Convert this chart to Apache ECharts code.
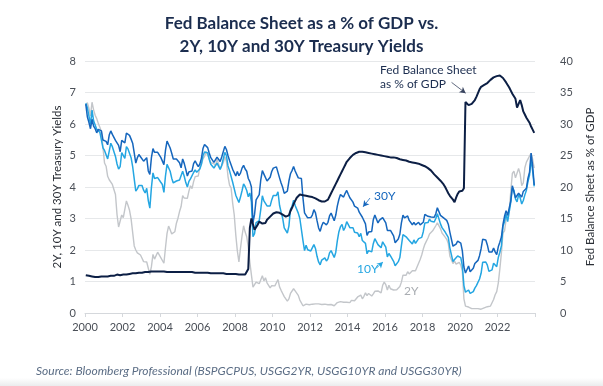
<!DOCTYPE html>
<html><head><meta charset="utf-8">
<script src="https://cdn.jsdelivr.net/npm/echarts@6/dist/echarts.min.js"></script>
<style>html,body{margin:0;padding:0;background:#fff}#c{width:603px;height:386px}</style>
</head><body><div id="c"></div>
<script>
// Monthly data Jan 2000 .. Dec 2023
const startYear = 2000, endYear = 2023;
const xTicks = [2000,2002,2004,2006,2008,2010,2012,2014,2016,2018,2020,2022];

const y2 = [
6.58,6.68,6.50,6.26,6.69,6.45,6.28,6.17,6.02,5.90,5.76,5.26,
4.76,4.66,4.34,4.23,4.26,4.08,4.04,3.76,3.12,2.73,2.78,3.11,
3.03,3.02,3.56,3.42,3.26,2.99,2.56,2.13,2.00,1.91,1.92,1.84,
1.74,1.63,1.57,1.62,1.42,1.23,1.47,1.86,1.71,1.75,1.93,1.91,
1.76,1.74,1.58,2.07,2.53,2.76,2.64,2.51,2.53,2.58,2.85,3.01,
3.22,3.38,3.73,3.65,3.64,3.64,3.87,4.04,3.95,4.17,4.33,4.39,
4.35,4.64,4.74,4.89,4.97,5.12,5.12,4.90,4.77,4.80,4.74,4.67,
4.88,4.85,4.57,4.67,4.77,4.96,4.82,4.34,4.06,3.97,3.49,3.12,
2.48,1.97,1.62,2.05,2.45,2.77,2.57,2.42,2.08,1.61,1.21,0.82,
0.81,0.98,0.93,0.93,0.92,1.18,1.02,1.12,0.96,0.95,0.80,0.87,
0.93,0.86,0.96,1.06,0.83,0.72,0.62,0.52,0.47,0.38,0.45,0.62,
0.61,0.77,0.70,0.73,0.56,0.41,0.41,0.23,0.21,0.28,0.25,0.26,
0.24,0.28,0.34,0.29,0.29,0.29,0.25,0.27,0.26,0.28,0.27,0.26,
0.27,0.27,0.26,0.23,0.25,0.33,0.34,0.36,0.40,0.34,0.30,0.34,
0.39,0.33,0.40,0.42,0.39,0.45,0.51,0.47,0.57,0.45,0.53,0.64,
0.55,0.62,0.64,0.54,0.61,0.69,0.67,0.70,0.71,0.64,0.88,0.98,
0.90,0.73,0.88,0.77,0.82,0.73,0.67,0.74,0.77,0.84,0.98,1.20,
1.21,1.20,1.31,1.24,1.30,1.34,1.37,1.34,1.38,1.58,1.70,1.84,
2.03,2.18,2.28,2.38,2.51,2.53,2.61,2.65,2.77,2.86,2.86,2.68,
2.54,2.50,2.41,2.34,2.21,1.81,1.84,1.57,1.65,1.55,1.61,1.61,
1.52,1.33,0.45,0.22,0.17,0.19,0.14,0.14,0.13,0.14,0.17,0.14,
0.13,0.12,0.15,0.16,0.16,0.20,0.22,0.22,0.24,0.43,0.58,0.68,
0.95,1.40,1.91,2.54,2.61,2.96,3.02,3.24,3.86,4.43,4.50,4.29,
4.24,4.59,4.41,4.04,4.13,4.61,4.79,4.83,4.98,5.07,4.88,4.60
];

const y10 = [
6.66,6.52,6.26,5.99,6.44,6.10,6.05,5.83,5.80,5.74,5.72,5.24,
5.16,5.10,4.89,5.14,5.39,5.28,5.24,4.97,4.73,4.57,4.65,5.09,
5.04,4.91,5.28,5.21,5.16,4.93,4.65,4.26,3.87,3.94,4.05,4.03,
4.05,3.90,3.81,3.96,3.57,3.33,3.98,4.45,4.27,4.29,4.30,4.27,
4.15,4.08,3.83,4.35,4.72,4.73,4.50,4.28,4.13,4.10,4.19,4.23,
4.22,4.17,4.50,4.34,4.14,4.00,4.18,4.26,4.20,4.46,4.54,4.47,
4.42,4.57,4.72,4.99,5.11,5.11,5.09,4.88,4.72,4.73,4.60,4.56,
4.76,4.72,4.56,4.69,4.75,5.10,5.00,4.67,4.52,4.53,4.15,4.10,
3.74,3.74,3.51,3.68,3.88,4.10,4.01,3.89,3.69,3.81,3.53,2.42,
2.52,2.87,2.82,2.93,3.29,3.72,3.56,3.59,3.40,3.39,3.40,3.59,
3.73,3.69,3.73,3.85,3.42,3.20,3.01,2.70,2.65,2.54,2.76,3.29,
3.39,3.58,3.41,3.46,3.17,3.00,3.00,2.30,1.98,2.15,2.01,1.98,
1.97,1.97,2.17,2.05,1.80,1.62,1.53,1.68,1.72,1.75,1.65,1.72,
1.91,1.98,1.96,1.76,1.93,2.30,2.58,2.74,2.81,2.62,2.72,2.90,
2.86,2.71,2.72,2.71,2.56,2.60,2.54,2.42,2.53,2.30,2.33,2.21,
1.88,1.98,2.04,1.94,2.20,2.36,2.32,2.17,2.17,2.07,2.26,2.24,
2.09,1.78,1.89,1.81,1.81,1.64,1.50,1.56,1.63,1.76,2.14,2.49,
2.43,2.42,2.48,2.30,2.30,2.19,2.32,2.21,2.20,2.36,2.35,2.40,
2.58,2.86,2.84,2.87,2.98,2.91,2.89,2.89,3.00,3.15,3.12,2.83,
2.71,2.68,2.57,2.53,2.40,2.07,2.06,1.63,1.70,1.71,1.81,1.86,
1.76,1.50,0.87,0.66,0.67,0.73,0.62,0.65,0.68,0.79,0.87,0.93,
1.08,1.26,1.61,1.64,1.62,1.52,1.32,1.28,1.37,1.58,1.56,1.47,
1.76,1.93,2.13,2.75,2.90,3.14,2.90,2.90,3.52,3.98,3.89,3.62,
3.53,3.75,3.66,3.46,3.57,3.75,3.90,4.17,4.38,4.88,4.50,4.02
];

const y30 = [
6.63,6.23,6.05,5.85,6.15,5.93,5.85,5.72,5.83,5.80,5.78,5.49,
5.54,5.45,5.34,5.65,5.78,5.67,5.61,5.48,5.48,5.32,5.12,5.48,
5.45,5.40,5.71,5.67,5.64,5.52,5.39,5.08,4.76,4.93,5.03,4.96,
4.92,4.82,4.81,4.93,4.51,4.40,4.93,5.22,5.10,5.12,5.10,5.08,
4.94,4.89,4.71,5.16,5.46,5.45,5.24,5.07,4.89,4.85,4.89,4.88,
4.77,4.61,4.89,4.75,4.56,4.35,4.48,4.53,4.51,4.74,4.83,4.73,
4.65,4.73,4.91,5.22,5.35,5.29,5.25,5.08,4.93,4.94,4.78,4.78,
4.95,4.93,4.81,4.95,4.98,5.29,5.19,5.00,4.84,4.83,4.56,4.57,
4.35,4.49,4.36,4.44,4.60,4.69,4.57,4.50,4.27,4.17,4.00,2.87,
3.13,3.59,3.64,3.76,4.23,4.52,4.41,4.37,4.19,4.19,4.31,4.49,
4.60,4.62,4.64,4.69,4.29,4.13,3.99,3.80,3.77,3.87,4.19,4.42,
4.52,4.65,4.51,4.50,4.29,4.23,4.27,3.65,3.18,3.13,3.02,2.98,
3.03,3.11,3.28,3.18,2.93,2.70,2.59,2.77,2.88,2.90,2.80,2.88,
3.08,3.17,3.16,2.93,3.11,3.40,3.61,3.76,3.79,3.68,3.80,3.89,
3.77,3.66,3.62,3.52,3.39,3.42,3.33,3.20,3.26,3.04,3.04,2.83,
2.46,2.57,2.63,2.59,2.96,3.11,3.07,2.86,2.95,2.89,3.03,2.97,
2.86,2.62,2.68,2.62,2.63,2.45,2.23,2.26,2.35,2.50,2.86,3.11,
3.02,3.03,3.08,2.94,2.96,2.80,2.88,2.80,2.78,2.88,2.80,2.77,
2.88,3.13,3.09,3.07,3.13,3.05,3.01,3.04,3.15,3.34,3.36,3.10,
3.04,3.02,2.98,2.94,2.82,2.57,2.57,2.12,2.16,2.19,2.28,2.30,
2.22,1.97,1.46,1.27,1.38,1.49,1.31,1.36,1.42,1.57,1.62,1.67,
1.82,2.04,2.34,2.30,2.32,2.16,1.94,1.92,1.94,2.06,1.94,1.85,
2.10,2.25,2.41,2.81,3.07,3.25,3.10,3.13,3.56,4.04,4.00,3.66,
3.66,3.80,3.77,3.68,3.86,3.87,3.96,4.28,4.47,5.08,4.66,4.06
];

const fedBS = [
6.0,6.0,5.9,5.8,5.8,5.7,5.7,5.7,5.7,5.8,5.8,5.8,
5.8,5.8,5.8,5.9,5.9,5.9,5.9,6.0,6.1,6.0,6.0,6.1,
6.1,6.1,6.1,6.2,6.2,6.2,6.3,6.3,6.3,6.3,6.4,6.4,
6.4,6.4,6.5,6.5,6.5,6.5,6.6,6.6,6.6,6.6,6.6,6.6,
6.6,6.6,6.6,6.6,6.5,6.5,6.5,6.5,6.5,6.5,6.5,6.5,
6.5,6.5,6.5,6.5,6.5,6.5,6.5,6.5,6.5,6.4,6.4,6.5,
6.4,6.4,6.4,6.4,6.4,6.4,6.4,6.4,6.3,6.3,6.3,6.3,
6.3,6.3,6.3,6.3,6.3,6.2,6.2,6.2,6.2,6.2,6.2,6.2,
6.2,6.2,6.1,6.1,6.1,6.1,6.1,6.1,7.0,13.5,15.0,15.1,
13.2,13.0,14.0,14.5,14.5,14.2,14.0,14.3,14.8,15.0,15.3,15.5,
15.8,15.8,16.0,16.0,15.9,15.8,15.6,15.4,15.3,15.2,15.5,16.2,
16.7,17.3,17.8,18.3,18.6,18.8,18.8,18.7,18.7,18.6,18.6,18.5,
18.4,18.4,18.3,18.2,18.0,17.9,17.8,17.7,17.6,17.7,17.8,18.0,
18.5,19.0,19.5,20.0,20.5,21.0,21.5,22.0,22.5,23.0,23.5,24.0,
24.3,24.6,24.9,25.1,25.3,25.4,25.5,25.6,25.6,25.6,25.5,25.5,
25.4,25.4,25.3,25.3,25.2,25.2,25.1,25.1,25.0,25.0,24.9,24.9,
24.9,24.8,24.8,24.7,24.7,24.7,24.6,24.6,24.5,24.4,24.4,24.3,
24.3,24.2,24.1,24.0,24.0,23.9,23.9,23.8,23.8,23.7,23.6,23.5,
23.4,23.3,23.2,23.0,22.8,22.6,22.3,22.0,21.8,21.5,21.2,21.0,
20.7,20.4,20.0,19.5,19.0,18.6,18.3,18.0,17.6,18.3,18.9,19.3,
19.4,19.4,19.8,33.5,33.4,33.0,32.8,33.2,33.5,33.8,34.3,34.9,
35.5,35.9,36.0,36.2,36.3,36.5,36.8,37.0,37.2,37.4,37.5,37.6,
37.7,37.7,37.6,37.3,37.0,36.6,36.2,35.8,35.3,34.8,34.5,34.0,
32.6,32.8,33.8,33.0,32.0,31.5,31.0,30.6,30.2,29.6,29.1,28.6
];

const months = [];
for (let y = startYear; y <= endYear; y++) for (let m = 1; m <= 12; m++) months.push(y + (m - 0.5) / 12);
const pair = arr => arr.map((v, i) => [months[i], v]);

const FONT = 'Lato';
const chart = echarts.init(document.getElementById('c'));
const arrowLine = (from, to, color) => ({
  silent: true, symbol: ['none', 'arrow'], symbolSize: [5, 6],
  label: {show: false}, lineStyle: {color: color, width: 0.8, type: 'solid'},
  animation: false,
  data: [[{coord: from}, {coord: to}]]
});

chart.setOption({
  animation: false,
  backgroundColor: '#fff',
  textStyle: {fontFamily: FONT},
  title: {
    text: 'Fed Balance Sheet as a % of GDP vs.\n2Y, 10Y and 30Y Treasury Yields',
    left: 'center', top: 7,
    textStyle: {fontFamily: FONT, fontSize: 17, fontWeight: 'bold', color: '#1b2d4f', lineHeight: 23}
  },
  grid: {left: 85, right: 68, top: 61, bottom: 73, containLabel: false, outerBoundsMode: 'none'},
  xAxis: {
    type: 'value', min: 2000, max: 2024, interval: 2,
    axisLine: {show: true, lineStyle: {color: '#d5d8dc'}},
    axisTick: {show: true, length: 4, lineStyle: {color: '#d5d8dc'}},
    axisLabel: {color: '#4a4f57', fontSize: 11, margin: 9,
      formatter: v => xTicks.includes(v) ? String(v) : ''},
    splitLine: {show: false}
  },
  yAxis: [{
    type: 'value', min: 0, max: 8, interval: 1,
    name: '2Y, 10Y and 30Y Treasury Yields', nameLocation: 'middle', nameGap: 22,
    nameMoveOverlap: false,
    nameTextStyle: {color: '#2b2f36', fontSize: 11.5},
    axisLine: {show: false}, axisTick: {show: false},
    axisLabel: {color: '#4a4f57', fontSize: 11, margin: 9},
    splitLine: {lineStyle: {color: '#e6e8ea'}}
  }, {
    type: 'value', min: 0, max: 40, interval: 5,
    name: 'Fed Balance Sheet as % of GDP', nameLocation: 'middle', nameGap: 49, nameRotate: 90,
    nameMoveOverlap: false,
    nameTextStyle: {color: '#2b2f36', fontSize: 11.5},
    axisLine: {show: false}, axisTick: {show: false},
    axisLabel: {color: '#4a4f57', fontSize: 11, margin: 25},
    splitLine: {show: false}
  }],
  series: [
    {name: '2Y', type: 'line', yAxisIndex: 0, data: pair(y2), showSymbol: false,
      lineStyle: {color: '#c3c6ca', width: 1.4}, z: 2},
    {name: '10Y', type: 'line', yAxisIndex: 0, data: pair(y10), showSymbol: false,
      lineStyle: {color: '#24a6e2', width: 1.5}, z: 3,
      markLine: arrowLine([2015.56, 1.43], [2015.89, 1.62], '#24a6e2')},
    {name: '30Y', type: 'line', yAxisIndex: 0, data: pair(y30), showSymbol: false,
      lineStyle: {color: '#1566bd', width: 1.5}, z: 4,
      markLine: arrowLine([2015.2, 3.65], [2014.83, 3.37], '#1566bd')},
    {name: 'Fed BS', type: 'line', yAxisIndex: 1, data: pair(fedBS), showSymbol: false,
      lineStyle: {color: '#0c1f45', width: 2}, z: 5,
      markLine: arrowLine([2019.55, 36.6], [2020.3, 34.9], '#3a4560')}
  ],
  graphic: [
    {type: 'rect', left: 0, top: 378, shape: {width: 603, height: 8}, silent: true,
      style: {fill: new echarts.graphic.LinearGradient(0, 0, 0, 1, [{offset: 0, color: '#ffffff'}, {offset: 1, color: '#ebeced'}])}},
    {type: 'text', left: 380, top: 63, style: {text: 'Fed Balance Sheet\nas % of GDP', fill: '#1b2d4f', font: '12px Lato', lineHeight: 14}},
    {type: 'text', left: 374, top: 190, style: {text: '30Y', fill: '#1566bd', font: '12px Lato'}},
    {type: 'text', left: 357, top: 263, style: {text: '10Y', fill: '#24a6e2', font: '12px Lato'}},
    {type: 'text', left: 404, top: 285, style: {text: '2Y', fill: '#a9adb2', font: '12px Lato'}},
    {type: 'text', left: 36, top: 365, style: {text: 'Source: Bloomberg Professional (BSPGCPUS, USGG2YR, USGG10YR and USGG30YR)', fill: '#5b6d85', font: 'italic 12px Lato'}}
  ]
});
</script></body></html>
